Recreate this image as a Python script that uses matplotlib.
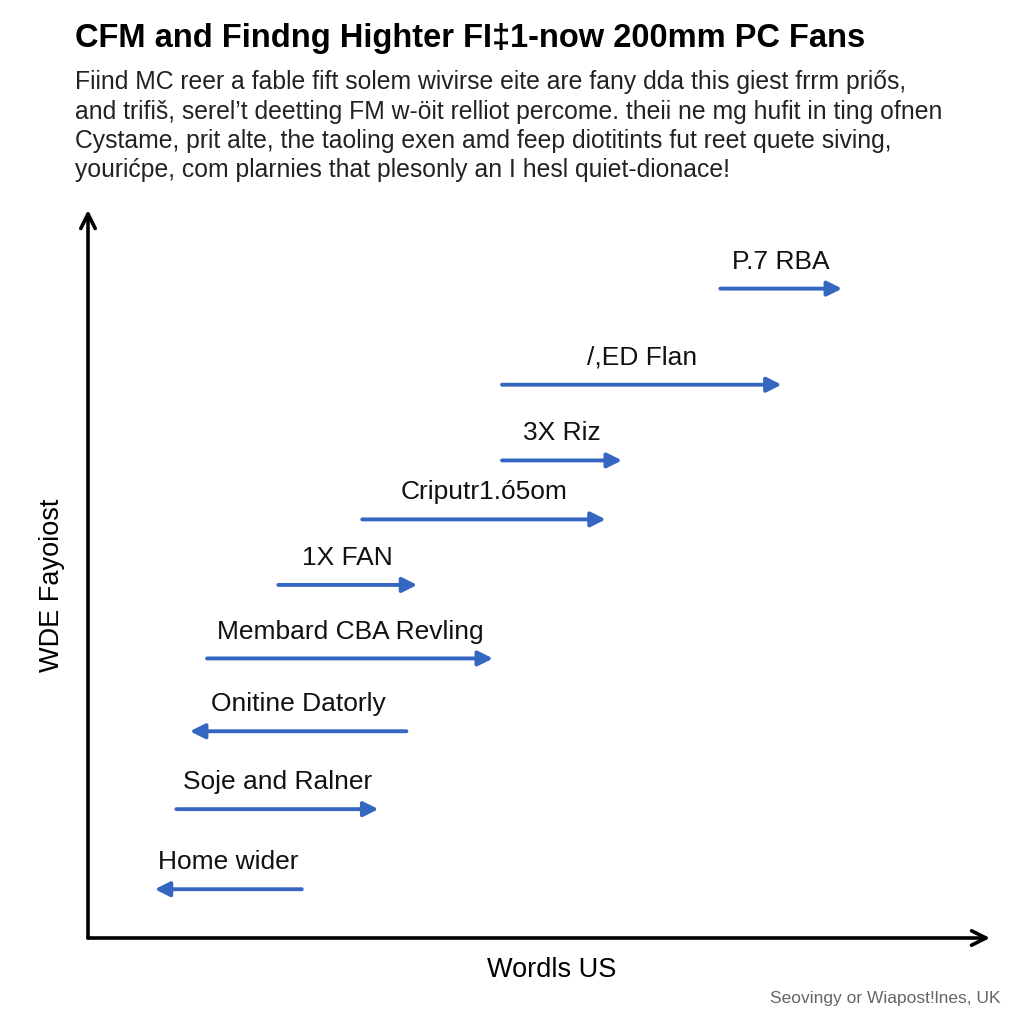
import matplotlib.pyplot as plt

plt.rcParams['font.family'] = ['Liberation Sans', 'DejaVu Sans']

# arrows (axis units 0-100)
labels = ["P.7 RBA", "/,ED Flan", "3X Riz", "Criputr1.ó5om", "1X FAN",
          "Membard CBA Revling", "Onitine Datorly", "Soje and Ralner", "Home wider"]
x_start = [70.1, 45.9, 45.9, 30.4, 21.1, 13.2, 35.3, 9.8, 23.7]
x_end = [83.6, 76.9, 59.2, 57.4, 36.5, 44.9, 11.3, 32.2, 7.4]
y_level = [89.2, 76.0, 65.6, 57.5, 48.5, 38.4, 28.4, 17.7, 6.7]

title = "CFM and Findng Highter FI‡1-now 200mm PC Fans"
intro = ["Fiind MC reer a fable fift solem wivirse eite are fany dda this giest frrm pri\u0151s,",
         "and trifi\u0161, serel\u2019t deetting FM w-\u00f6it relliot percome. theii ne mg hufit in ting ofnen",
         "Cystame, prit alte, the taoling exen amd feep diotitints fut reet quete siving,",
         "youri\u0107pe, com plarnies that plesonly an I hesl quiet-dionace!"]

blue = "#3566c2"

fig = plt.figure(figsize=(10.24, 10.24), dpi=100)
fig.text(75 / 1024, 1 - 38 / 1024, title, fontsize=23.5, fontweight='bold', va='center', ha='left')
for i, line in enumerate(intro):
    fig.text(75 / 1024, 1 - (82 + i * 29.5) / 1024, line, fontsize=17.8, va='center', ha='left', color='#222222')

ax = fig.add_axes([88 / 1024, (1024 - 938) / 1024, 902 / 1024, 728 / 1024])
ax.set_xlim(0, 100)
ax.set_ylim(0, 100)
ax.axis('off')

# axes with open arrow heads
ax.annotate('', xy=(0, 1), xytext=(0, 0), xycoords='axes fraction',
            arrowprops=dict(arrowstyle='->', lw=2.6, color='black', mutation_scale=26, shrinkA=0, shrinkB=0))
ax.annotate('', xy=(1, 0), xytext=(0, 0), xycoords='axes fraction',
            arrowprops=dict(arrowstyle='->', lw=2.6, color='black', mutation_scale=26, shrinkA=0, shrinkB=0))

for lab, x0, x1, y in zip(labels, x_start, x_end, y_level):
    ax.annotate('', xy=(x1, y), xytext=(x0, y),
                arrowprops=dict(arrowstyle='-|>', lw=2.8, color=blue, mutation_scale=22, shrinkA=0, shrinkB=0))
    ax.text((x0 + x1) / 2, y + 3.7, lab, fontsize=19, ha='center', va='center', color='#111111')

fig.text(552 / 1024, 1 - 970 / 1024, "Wordls US", fontsize=19.5, ha='center', va='center')
fig.text(52 / 1024, 1 - 585 / 1024, "WDE Fayoiost", fontsize=19.5, rotation=90, ha='center', va='center')
fig.text(1000 / 1024, 1 - 998 / 1024, "Seovingy or Wiapost!lnes, UK", fontsize=12.5, ha='right', va='center', color='#666666')

fig.savefig('out.png', dpi=100, facecolor='white')
